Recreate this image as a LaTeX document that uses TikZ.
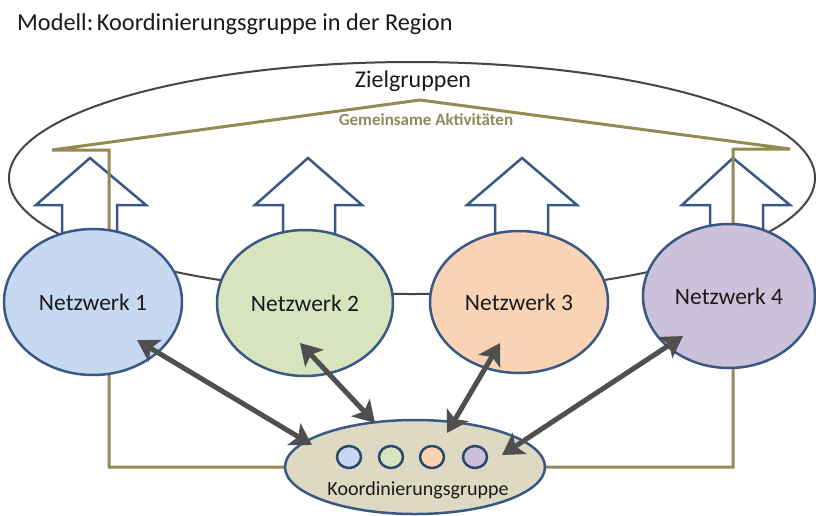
\documentclass[tikz,border=0pt]{standalone}
\usepackage{fontspec}
\setmainfont{Carlito}
\usetikzlibrary{shapes.geometric,arrows.meta}
\definecolor{netborder}{HTML}{3A5885}
\definecolor{nfillA}{HTML}{C6D9F1}
\definecolor{nfillB}{HTML}{D7E4BD}
\definecolor{nfillC}{HTML}{FAD3B4}
\definecolor{nfillD}{HTML}{CCC1DA}
\definecolor{kfill}{HTML}{DDD9C3}
\definecolor{olive}{HTML}{948A54}
\definecolor{olivetext}{HTML}{8F8A5E}
\definecolor{ringgray}{HTML}{454545}
\definecolor{arrgray}{HTML}{4F4F4F}
\definecolor{txt}{HTML}{1A1A1A}
\tikzset{
  netz/.style={ellipse, draw=netborder, line width=2.5pt, inner sep=0pt, text=txt,
    font=\fontsize{23.5}{28}\selectfont},
  blockarrow/.style={draw=netborder, line width=2.5pt, fill=white, line join=miter},
  oliveline/.style={draw=olive, line width=3pt},
  dblarrow/.style={draw=arrgray, line width=5pt,
    {Stealth[length=21pt,width=25pt,inset=5pt]}-{Stealth[length=21pt,width=25pt,inset=5pt]}},
  dot/.style={ellipse, draw=netborder!80!black, line width=2.5pt, minimum width=24pt, minimum height=22pt, inner sep=0pt}
}
\begin{document}
\begin{tikzpicture}[x=1pt,y=-1pt]
\useasboundingbox[fill=white] (0,0) rectangle (816,515);
% title
\node[anchor=base west, inner sep=0pt, text=txt, font=\fontsize{24.3}{28}\selectfont] (title) at (17,30) {Modell:\hspace{-0.15em} Koordinierungsgruppe in der Region};
% big ring
\node[ellipse, draw=ringgray, line width=2pt, minimum width=806pt, minimum height=232pt, inner sep=0pt] (ring) at (412,178) {};
\node[anchor=base, inner sep=0pt, text=txt, font=\fontsize{24}{28}\selectfont] (ziel) at (413,87) {Zielgruppen};
\node[anchor=base, inner sep=0pt, text=olivetext, font=\fontsize{17}{20}\selectfont\bfseries] (gem) at (426,125) {Gemeinsame Aktivitäten};
% block arrows
\draw[blockarrow] (62,250) -- (62,205) -- (36,205) -- (90,158) -- (146,205) -- (117,205) -- (117,250) -- cycle;
\draw[blockarrow] (283,250) -- (283,205) -- (255,205) -- (308,158) -- (362,205) -- (335,205) -- (335,250) -- cycle;
\draw[blockarrow] (495,250) -- (495,205) -- (467,205) -- (522,158) -- (577,205) -- (548,205) -- (548,250) -- cycle;
\draw[blockarrow] (710,250) -- (710,205) -- (682,205) -- (733,158) -- (790,205) -- (763,205) -- (763,250) -- cycle;
% ends of the olive frame at the coordinating group
\coordinate (kL) at (285,467);
\coordinate (kR) at (545,467);
% olive roof and frame
\draw[oliveline, line join=miter] (kL) -- (109,467) -- (109,150) -- (52,150) -- (420,100) -- (790,149) -- (733,149) -- (733,467) -- (kR);
% networks
\node[netz, fill=nfillA, minimum width=178pt, minimum height=146pt] (n1) at (93,302) {Netzwerk 1};
\node[netz, fill=nfillB, minimum width=176pt, minimum height=146pt] (n2) at (305,303) {Netzwerk 2};
\node[netz, fill=nfillC, minimum width=178pt, minimum height=142pt] (n3) at (519,302) {Netzwerk 3};
\node[netz, fill=nfillD, minimum width=172pt, minimum height=144pt] (n4) at (729,296) {Netzwerk 4};
% Koordinierungsgruppe
\node[ellipse, draw=netborder, line width=2.5pt, fill=kfill, minimum width=260pt, minimum height=94pt, inner sep=0pt] (k) at (415,467) {};
\node[anchor=base, inner sep=0pt, text=txt, font=\fontsize{20}{24}\selectfont] (ktext) at (418,495) {Koordinierungsgruppe};
\node[dot, fill=nfillA] (d1) at (349,457) {};
\node[dot, fill=nfillB] (d2) at (391,457) {};
\node[dot, fill=nfillC] (d3) at (432,457) {};
\node[dot, fill=nfillD] (d4) at (475,457) {};
% double arrows
\coordinate (a1) at (137,340); \coordinate (b1) at (312,445);
\coordinate (a2) at (300,343); \coordinate (b2) at (375,423);
\coordinate (a3) at (500,343); \coordinate (b3) at (447,433);
\coordinate (a4) at (683,336); \coordinate (b4) at (502,455);
\draw[dblarrow] (a1) -- (b1);
\draw[dblarrow] (a2) -- (b2);
\draw[dblarrow] (a3) -- (b3);
\draw[dblarrow] (a4) -- (b4);
\end{tikzpicture}
\end{document}
